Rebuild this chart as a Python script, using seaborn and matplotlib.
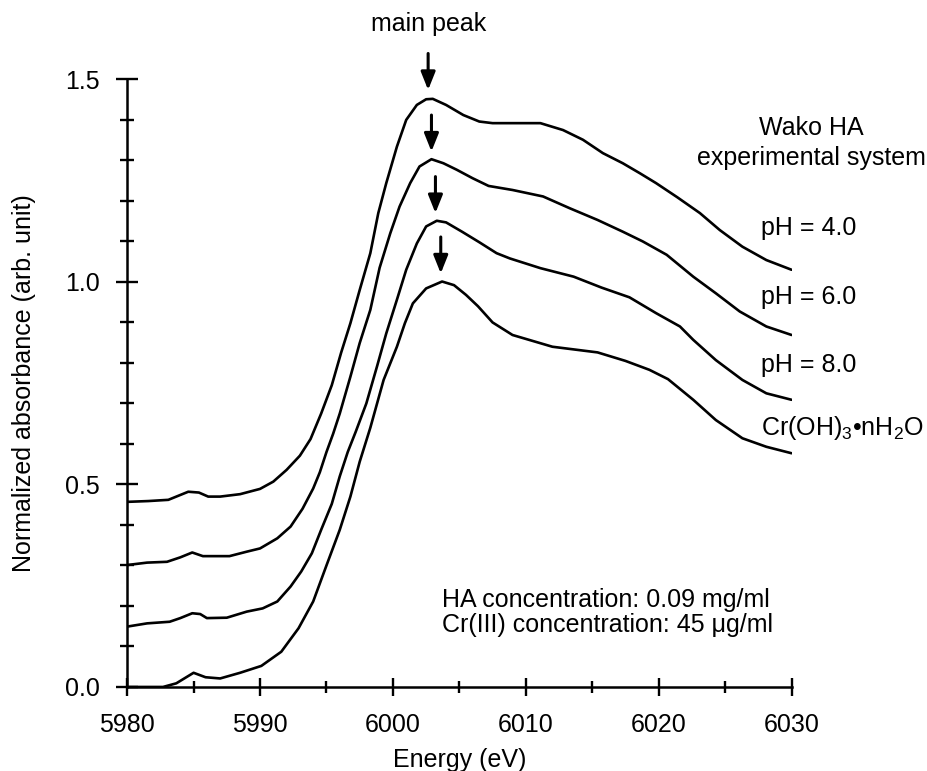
import numpy as np
import pandas as pd
import matplotlib
matplotlib.use("Agg")
import matplotlib.pyplot as plt
import seaborn as sns
from matplotlib.ticker import MultipleLocator, FormatStrFormatter

# ---------------- data ----------------
e_ph4 = [5980, 5981.6, 5983.1, 5984.6, 5985.4, 5986.1, 5987, 5988.5, 5990, 5991, 5992,
         5993, 5993.8, 5994.6, 5995.4, 5996.1, 5996.8, 5997.5, 5998.3, 5998.9, 5999.5,
         6000.3, 6001, 6001.8, 6002.5, 6003, 6004, 6005.3, 6006.5, 6007.5, 6011.1,
         6012.8, 6014.3, 6015.8, 6017.3, 6018.6, 6019.8, 6021.4, 6023.1, 6024.6, 6026.3,
         6028.1, 6030]
a_ph4 = [0.457, 0.459, 0.462, 0.482, 0.480, 0.470, 0.470, 0.476, 0.489, 0.507, 0.536,
         0.571, 0.612, 0.675, 0.745, 0.825, 0.898, 0.980, 1.071, 1.170, 1.244,
         1.334, 1.400, 1.437, 1.451, 1.452, 1.437, 1.412, 1.396, 1.392, 1.392,
         1.375, 1.351, 1.318, 1.293, 1.268, 1.244, 1.209, 1.170, 1.128, 1.087,
         1.054, 1.030]

e_ph6 = [5980, 5981.5, 5983, 5984, 5984.9, 5985.7, 5987.7, 5989, 5990, 5991.3, 5992.3,
         5993.2, 5994.0, 5994.5, 5995.0, 5995.5, 5996.0, 5996.8, 5997.5, 5998.3, 5999.0,
         5999.8, 6000.5, 6001.3, 6002, 6002.9, 6003.8, 6004.8, 6006, 6007.2, 6009,
         6011.3, 6013.3, 6015.4, 6017.3, 6018.8, 6020.6, 6022.6, 6024.3, 6026.1,
         6028.1, 6030]
a_ph6 = [0.301, 0.307, 0.309, 0.320, 0.332, 0.323, 0.323, 0.334, 0.342, 0.367, 0.396,
         0.440, 0.490, 0.530, 0.580, 0.625, 0.675, 0.766, 0.849, 0.931, 1.035,
         1.120, 1.186, 1.244, 1.285, 1.303, 1.293, 1.277, 1.256, 1.237, 1.227,
         1.211, 1.182, 1.153, 1.124, 1.100, 1.067, 1.013, 0.972, 0.927,
         0.890, 0.869]

e_ph8 = [5980, 5981.5, 5983.2, 5984, 5984.9, 5985.5, 5986, 5987.5, 5989, 5990.2, 5991.3,
         5992.3, 5993.1, 5993.9, 5994.6, 5995.4, 5996, 5996.6, 5997.2, 5998, 5998.8,
         5999.5, 6000.3, 6001, 6001.8, 6002.5, 6003.3, 6004, 6005.2, 6006.5, 6007.8,
         6008.8, 6011.1, 6013.6, 6015.7, 6017.8, 6019.8, 6021.6, 6022.6, 6024.3,
         6026.3, 6028.1, 6030]
a_ph8 = [0.149, 0.157, 0.161, 0.170, 0.182, 0.180, 0.170, 0.171, 0.186, 0.194, 0.211,
         0.248, 0.285, 0.330, 0.388, 0.452, 0.520, 0.580, 0.630, 0.700, 0.791,
         0.873, 0.956, 1.030, 1.095, 1.137, 1.151, 1.147, 1.124, 1.098, 1.071,
         1.058, 1.034, 1.013, 0.986, 0.962, 0.923, 0.890, 0.857, 0.807,
         0.758, 0.725, 0.709]

e_cr = [5980, 5982.7, 5983.7, 5985, 5985.9, 5987, 5988.5, 5990.1, 5991.6, 5992.9, 5994,
        5995, 5996, 5996.8, 5997.5, 5998.3, 5999.3, 6000.3, 6000.9, 6001.5, 6002.5,
        6003.7, 6004.6, 6005.5, 6006.4, 6007.5, 6009, 6012, 6015.4, 6017.5, 6019.3,
        6020.7, 6022.6, 6024.3, 6026.3, 6028.1, 6030]
a_cr = [0.0, 0.0, 0.009, 0.035, 0.024, 0.021, 0.035, 0.052, 0.087, 0.145, 0.211,
        0.300, 0.388, 0.470, 0.556, 0.640, 0.758, 0.840, 0.898, 0.947, 0.984,
        1.001, 0.992, 0.968, 0.940, 0.900, 0.869, 0.840, 0.826, 0.805, 0.783,
        0.760, 0.709, 0.659, 0.614, 0.593, 0.577]

series_names = ["pH = 4.0", "pH = 6.0", "pH = 8.0", "Cr(OH)$_3$•nH$_2$O"]

# main-peak arrows: energy, tip value
arrow_e = [6002.65, 6002.9, 6003.2, 6003.6]
arrow_tip = [1.474, 1.322, 1.170, 1.021]
arrow_len = 0.09

frames = []
for name, e, a in zip(series_names, [e_ph4, e_ph6, e_ph8, e_cr],
                      [a_ph4, a_ph6, a_ph8, a_cr]):
    frames.append(pd.DataFrame({"Energy": e, "Absorbance": a, "Sample": name}))
df = pd.concat(frames, ignore_index=True)

# ---------------- plot ----------------
sns.set_style("ticks")
plt.rcParams["font.family"] = ["Liberation Sans", "DejaVu Sans"]
plt.rcParams["mathtext.fontset"] = "custom"
plt.rcParams["mathtext.rm"] = "Liberation Sans"
plt.rcParams["mathtext.it"] = "Liberation Sans:italic"
plt.rcParams["text.color"] = "black"
plt.rcParams["axes.labelcolor"] = "black"
plt.rcParams["xtick.color"] = "black"
plt.rcParams["ytick.color"] = "black"

FS = 18

fig = plt.figure(figsize=(9.28, 7.71), dpi=100)
ax = fig.add_axes([0.137, 0.109, 0.716, 0.788])

sns.lineplot(data=df, x="Energy", y="Absorbance", hue="Sample", units="Sample",
             estimator=None, sort=False,
             palette=["black"] * 4, linewidth=1.9, legend=False, ax=ax)

ax.set_xlim(5980, 6030)
ax.set_ylim(0, 1.5)
ax.xaxis.set_major_locator(MultipleLocator(10))
ax.xaxis.set_minor_locator(MultipleLocator(5))
ax.yaxis.set_major_locator(MultipleLocator(0.5))
ax.yaxis.set_minor_locator(MultipleLocator(0.1))
ax.yaxis.set_major_formatter(FormatStrFormatter("%.1f"))

for side in ["top", "right"]:
    ax.spines[side].set_visible(False)
for side in ["left", "bottom"]:
    ax.spines[side].set_linewidth(1.8)
    ax.spines[side].set_color("black")

ax.tick_params(axis="y", which="major", direction="inout", length=15.5, width=1.7,
               labelsize=FS, pad=12, colors="black", left=True)
ax.tick_params(axis="y", which="minor", direction="inout", length=10.5, width=1.7,
               left=True, colors="black")
ax.tick_params(axis="x", which="major", direction="inout", length=13, width=1.7,
               labelsize=FS, pad=12, colors="black", bottom=True)
ax.tick_params(axis="x", which="minor", direction="inout", length=8.5, width=1.7,
               bottom=True, colors="black")

ax.set_xlabel("Energy (eV)", fontsize=FS, labelpad=8, color="black")
ax.set_ylabel("Normalized absorbance (arb. unit)", fontsize=FS, color="black")
ax.yaxis.set_label_coords(-0.137, 0.5)

for xe, yt in zip(arrow_e, arrow_tip):
    ax.annotate("", xy=(xe, yt), xytext=(xe, yt + arrow_len),
                arrowprops=dict(arrowstyle="-|>,head_length=0.4,head_width=0.16",
                                color="black", lw=2.2, mutation_scale=27,
                                shrinkA=0, shrinkB=0),
                annotation_clip=False)

ax.text(6002.65, 1.637, "main peak", ha="center", va="center", fontsize=FS,
        color="black")

ax.text(6031.5, 1.38, "Wako HA", ha="center", va="center", fontsize=FS,
        clip_on=False, color="black")
ax.text(6031.5, 1.305, "experimental system", ha="center", va="center",
        fontsize=FS, clip_on=False, color="black")

label_y = [1.132, 0.964, 0.796, 0.640]
for name, ly in zip(series_names, label_y):
    ax.text(6027.7, ly, name, ha="left", va="center", fontsize=FS, clip_on=False,
            color="black")

ax.text(6003.66, 0.215, "HA concentration: 0.09 mg/ml", ha="left", va="center",
        fontsize=FS, color="black")
ax.text(6003.66, 0.153, "Cr(III) concentration: 45 μg/ml", ha="left", va="center",
        fontsize=FS, color="black")

fig.savefig("out.png", dpi=100)
